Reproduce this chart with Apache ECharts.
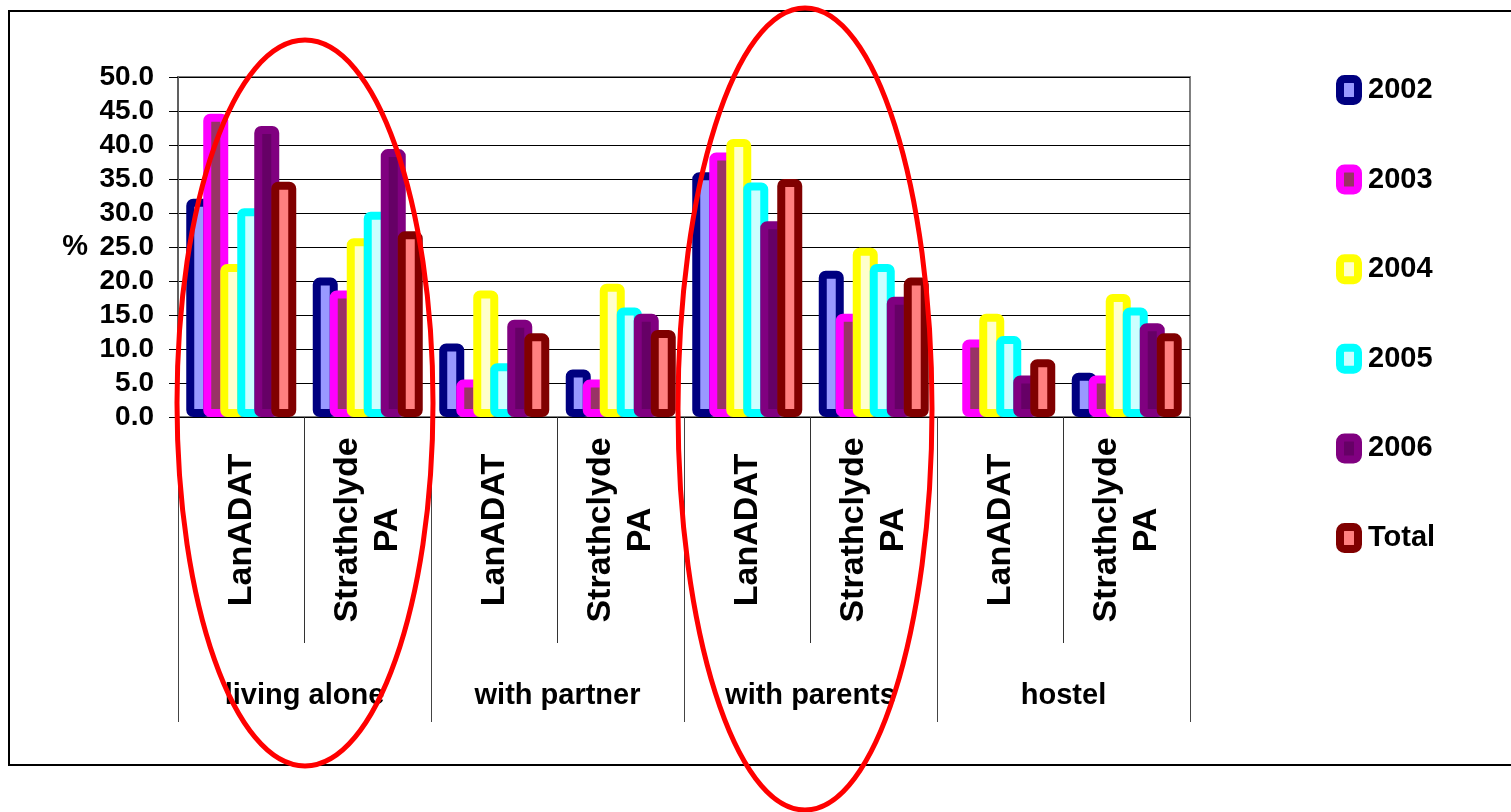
<!DOCTYPE html>
<html>
<head>
<meta charset="utf-8">
<script src="https://cdn.jsdelivr.net/npm/echarts@6/dist/echarts.min.js"></script>
<style>
html,body{margin:0;padding:0;background:#fff;}
#chart{width:1511px;height:812px;}
</style>
</head>
<body>
<div id="chart"></div>
<script>
// ---- data ----
const subCategories = ['LanADAT', 'Strathclyde\nPA', 'LanADAT', 'Strathclyde\nPA', 'LanADAT', 'Strathclyde\nPA', 'LanADAT', 'Strathclyde\nPA'];
const groupCategories = ['living alone', 'with partner', 'with parents', 'hostel'];
const seriesNames = ['2002', '2003', '2004', '2005', '2006', 'Total'];
const y2002  = [32.1, 20.5, 10.8, 7.0, 36.0, 21.5, null, 6.5];
const y2003  = [44.6, 18.6, 5.5, 5.5, 38.9, 15.2, 11.4, 6.1];
const y2004  = [22.5, 26.3, 18.6, 19.6, 40.9, 24.9, 15.2, 18.1];
const y2005  = [30.7, 30.2, 7.9, 16.1, 34.5, 22.5, 11.9, 16.1];
const y2006  = [42.8, 39.4, 14.3, 15.2, 28.8, 17.7, 6.1, 13.8];
const yTotal = [34.6, 27.3, 12.3, 12.8, 35.0, 20.5, 8.5, 12.3];
const yTicks = [0, 5, 10, 15, 20, 25, 30, 35, 40, 45, 50];

const seriesData = [y2002, y2003, y2004, y2005, y2006, yTotal];
const borderColors = ['#000080', '#FF00FF', '#FFFF00', '#00FFFF', '#800080', '#800000'];
const fillColors   = ['#9999FF', '#993366', '#FFFFCC', '#CCFFFF', '#660066', '#FF8080'];

const FONT = '"Liberation Sans", Arial, sans-serif';

const chart = echarts.init(document.getElementById('chart'));

const series = seriesNames.map((name, i) => ({
  name: name,
  type: 'bar',
  xAxisIndex: 0,
  data: seriesData[i],
  barWidth: 25,
  barGap: '-32%',
  itemStyle: {
    color: fillColors[i],
    borderColor: borderColors[i],
    borderWidth: 8,
    borderRadius: 3
  }
}));

chart.setOption({
  animation: false,
  backgroundColor: '#fff',
  textStyle: { fontFamily: FONT },
  grid: {
    left: 178, right: 321, top: 77, bottom: 395,
    show: true, borderColor: '#808080', borderWidth: 2, backgroundColor: 'transparent'
  },
  legend: {
    orient: 'vertical',
    left: 1331,
    top: 67,
    itemWidth: 18,
    itemHeight: 22,
    itemGap: 53.6,
    icon: 'roundRect',
    itemStyle: { borderWidth: 8 },
    textStyle: { fontFamily: FONT, fontWeight: 'bold', fontSize: 29, lineHeight: 36, color: '#000', padding: [0, 0, 0, 5] },
    data: seriesNames
  },
  xAxis: [
    {
      type: 'category',
      data: subCategories,
      position: 'bottom',
      axisLine: { show: true, lineStyle: { color: '#000', width: 1 } },
      axisTick: { show: true, length: 226, lineStyle: { color: '#333', width: 1 } },
      axisLabel: {
        interval: 0,
        rotate: 90,
        align: 'center',
        verticalAlign: 'middle',
        margin: 113,
        fontFamily: FONT,
        fontWeight: 'bold',
        fontSize: 34,
        lineHeight: 40,
        color: '#000'
      },
      splitLine: { show: false }
    },
    {
      type: 'category',
      data: groupCategories,
      position: 'bottom',
      gridIndex: 0,
      axisLine: { show: false },
      axisTick: { show: true, length: 305, lineStyle: { color: '#444', width: 1 } },
      axisLabel: {
        interval: 0,
        margin: 264,
        fontFamily: FONT,
        fontWeight: 'bold',
        fontSize: 29,
        color: '#000'
      },
      splitLine: { show: false }
    }
  ],
  yAxis: {
    type: 'value',
    min: yTicks[0],
    max: yTicks[yTicks.length - 1],
    interval: 5,
    name: '%',
    nameLocation: 'middle',
    nameRotate: 0,
    nameGap: 90,
    nameTextStyle: { fontFamily: FONT, fontWeight: 'bold', fontSize: 29, color: '#000' },
    axisLine: { show: true, lineStyle: { color: '#606060', width: 2 } },
    axisTick: { show: true, inside: false, length: 9, lineStyle: { color: '#000' } },
    axisLabel: {
      margin: 24,
      fontFamily: FONT,
      fontWeight: 'bold',
      fontSize: 28,
      color: '#000',
      formatter: v => v.toFixed(1)
    },
    splitLine: { show: true, lineStyle: { color: '#000', width: 1 } }
  },
  series: series,
  graphic: [
    {
      type: 'rect',
      silent: true,
      shape: { x: 9, y: 11, width: 1600, height: 754 },
      style: { fill: 'none', stroke: '#000', lineWidth: 2 },
      z: 100
    },
    {
      type: 'ellipse',
      silent: true,
      shape: { cx: 305, cy: 403, rx: 128, ry: 363 },
      style: { fill: 'none', stroke: '#FF0000', lineWidth: 5 },
      z: 100
    },
    {
      type: 'ellipse',
      silent: true,
      shape: { cx: 805, cy: 409, rx: 127, ry: 401 },
      style: { fill: 'none', stroke: '#FF0000', lineWidth: 5 },
      z: 100
    }
  ]
});
</script>
</body>
</html>
